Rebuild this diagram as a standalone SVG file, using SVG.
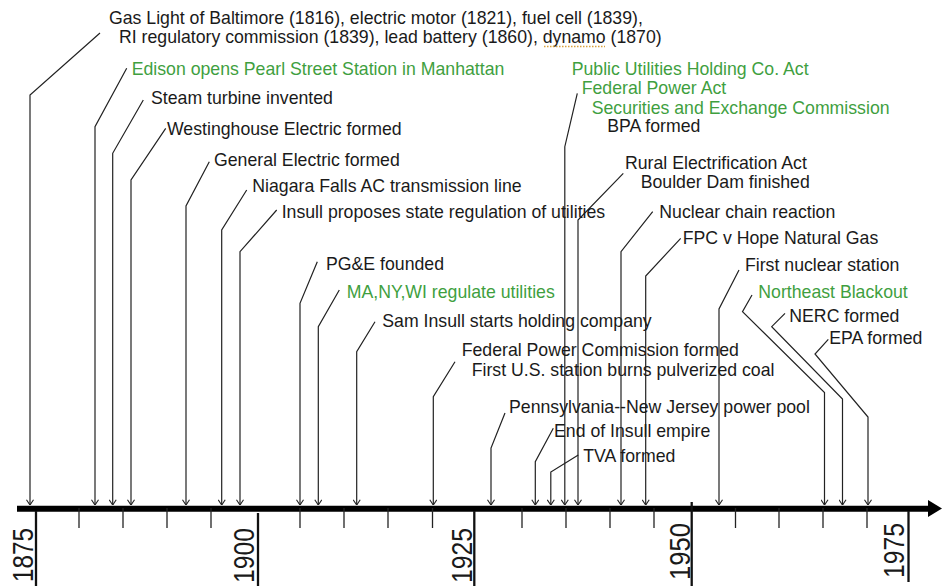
<svg xmlns="http://www.w3.org/2000/svg" width="943" height="586" viewBox="0 0 943 586">
<style>
text{font-family:"Liberation Sans",Arial,sans-serif;font-size:17.7px;fill:#1a1a1a}
.g{fill:#3f9f3f}
.yr{font-size:30px}
.c{fill:none;stroke:#222;stroke-width:1.2;marker-end:url(#arr)}
.tick{stroke:#222;stroke-width:1.3}
.major{stroke:#111;stroke-width:2.3}
</style>
<defs>
<marker id="arr" viewBox="0 0 10 10" refX="10" refY="5" markerWidth="8" markerHeight="8" markerUnits="userSpaceOnUse" orient="auto">
<path d="M3.5,0.6 L10,5 L3.5,9.4" fill="none" stroke="#222" stroke-width="1.4"/>
</marker>
</defs>
<rect width="943" height="586" fill="#fff"/>

<g id="axis">
<line x1="17" y1="508.7" x2="930" y2="508.7" stroke="#000" stroke-width="6"/>
<polygon points="928,500 942,508.5 928,517" fill="#000"/>
<g class="tick">
<line x1="79" y1="508" x2="79" y2="528"/>
<line x1="123" y1="508" x2="123" y2="528"/>
<line x1="167" y1="508" x2="167" y2="528"/>
<line x1="211" y1="508" x2="211" y2="528"/>
<line x1="300" y1="508" x2="300" y2="528"/>
<line x1="344" y1="508" x2="344" y2="528"/>
<line x1="388" y1="508" x2="388" y2="528"/>
<line x1="432.5" y1="508" x2="432.5" y2="528"/>
<line x1="522" y1="508" x2="522" y2="528"/>
<line x1="566" y1="508" x2="566" y2="528"/>
<line x1="610" y1="508" x2="610" y2="528"/>
<line x1="654" y1="508" x2="654" y2="528"/>
<line x1="735.5" y1="508" x2="735.5" y2="528"/>
<line x1="779" y1="508" x2="779" y2="528"/>
<line x1="823" y1="508" x2="823" y2="528"/>
<line x1="867" y1="508" x2="867" y2="528"/>
</g>
<g class="major">
<line x1="36" y1="511" x2="36" y2="586"/>
<line x1="258" y1="513" x2="258" y2="586"/>
<line x1="474.3" y1="511" x2="474.3" y2="586"/>
<line x1="691.7" y1="502" x2="691.7" y2="586"/>
<line x1="908.5" y1="511" x2="908.5" y2="582"/>
</g>
<text class="yr" transform="translate(33.3,582) rotate(-90)" textLength="54" lengthAdjust="spacingAndGlyphs">1875</text>
<text class="yr" transform="translate(253.5,583) rotate(-90)" textLength="55" lengthAdjust="spacingAndGlyphs">1900</text>
<text class="yr" transform="translate(471.5,583) rotate(-90)" textLength="55" lengthAdjust="spacingAndGlyphs">1925</text>
<text class="yr" transform="translate(690,580) rotate(-90)" textLength="57" lengthAdjust="spacingAndGlyphs">1950</text>
<text class="yr" transform="translate(903.5,578) rotate(-90)" textLength="55" lengthAdjust="spacingAndGlyphs">1975</text>
</g>

<g id="connectors">
<polyline class="c" points="100,33 30,95 30,505"/>
<polyline class="c" points="126.7,68.3 95,126.7 95,505"/>
<polyline class="c" points="143.3,100 112.7,153.3 112.7,505"/>
<polyline class="c" points="165.7,128.3 131,180 131,505"/>
<polyline class="c" points="209.3,161.7 186,206 186,505"/>
<polyline class="c" points="246.7,190 221.7,230 221.7,505"/>
<polyline class="c" points="276.7,210 240,251.7 240,505"/>
<polyline class="c" points="317.3,261.7 300,303.3 300,505"/>
<polyline class="c" points="339.3,290 318.3,326.7 318.3,505"/>
<polyline class="c" points="375,321.7 356.7,351.7 356.7,505"/>
<polyline class="c" points="455,361.7 433.3,396.7 433.3,505"/>
<polyline class="c" points="505,413 491,448 491,505"/>
<polyline class="c" points="553.3,428.3 535.3,461.7 535.3,505"/>
<polyline class="c" points="578.3,455 550.8,472 550.8,505"/>
<polyline class="c" points="577.3,93.3 564.8,146.7 564.8,505"/>
<polyline class="c" points="623.3,173.3 578,220 578,505"/>
<polyline class="c" points="652.7,211.7 621,251.7 621,505"/>
<polyline class="c" points="680.7,238.3 645.7,276 645.7,505"/>
<polyline class="c" points="739,270 719,309 719,505"/>
<polyline class="c" points="752,295 742.5,311.7 824.5,392.5 824.5,505"/>
<polyline class="c" points="785,313.3 771.7,326.7 842.5,399 842.5,505"/>
<polyline class="c" points="828.3,339.3 815,354 868,417 868,505"/>
</g>

<g id="e-early">
<text x="109" y="24">Gas Light of Baltimore (1816), electric motor (1821), fuel cell (1839),</text>
<text x="119" y="43.3">RI regulatory commission (1839), lead battery (1860), dynamo (1870)</text>
<line x1="544" y1="46.5" x2="605" y2="46.5" stroke="#d9a13b" stroke-width="1.3" stroke-dasharray="1.5,1.5"/>
</g>
<g id="e-edison"><text class="g" x="131.7" y="75">Edison opens Pearl Street Station in Manhattan</text></g>
<g id="e-steam"><text x="151" y="104">Steam turbine invented</text></g>
<g id="e-westinghouse"><text x="167" y="135">Westinghouse Electric formed</text></g>
<g id="e-ge"><text x="214" y="165.7">General Electric formed</text></g>
<g id="e-niagara"><text x="252.3" y="192.3">Niagara Falls AC transmission line</text></g>
<g id="e-insull-reg"><text x="281.7" y="218.3">Insull proposes state regulation of utilities</text></g>
<g id="e-pge"><text x="326" y="270">PG&amp;E founded</text></g>
<g id="e-states"><text class="g" x="346.7" y="298.3">MA,NY,WI regulate utilities</text></g>
<g id="e-holding"><text x="382.3" y="326.7">Sam Insull starts holding company</text></g>
<g id="e-fpc">
<text x="461.7" y="356">Federal Power Commission formed</text>
<text x="471.7" y="376">First U.S. station burns pulverized coal</text>
</g>
<g id="e-pjm"><text x="509" y="413.3">Pennsylvania--New Jersey power pool</text></g>
<g id="e-end-insull"><text x="554" y="436.7">End of Insull empire</text></g>
<g id="e-tva"><text x="583.3" y="462.3">TVA formed</text></g>
<g id="e-puhca">
<text class="g" x="571.7" y="75">Public Utilities Holding Co. Act</text>
<text class="g" x="581.7" y="94.3">Federal Power Act</text>
<text class="g" x="591.7" y="114">Securities and Exchange Commission</text>
<text x="607.3" y="132.3">BPA formed</text>
</g>
<g id="e-rea">
<text x="625" y="169.3">Rural Electrification Act</text>
<text x="640.7" y="188.3">Boulder Dam finished</text>
</g>
<g id="e-chain"><text x="659.3" y="218.3">Nuclear chain reaction</text></g>
<g id="e-hope"><text x="682.7" y="244.3">FPC v Hope Natural Gas</text></g>
<g id="e-nuclear"><text x="745" y="271">First nuclear station</text></g>
<g id="e-blackout"><text class="g" x="758.3" y="297.7">Northeast Blackout</text></g>
<g id="e-nerc"><text x="789.3" y="322.3">NERC formed</text></g>
<g id="e-epa"><text x="829.3" y="344">EPA formed</text></g>
</svg>
